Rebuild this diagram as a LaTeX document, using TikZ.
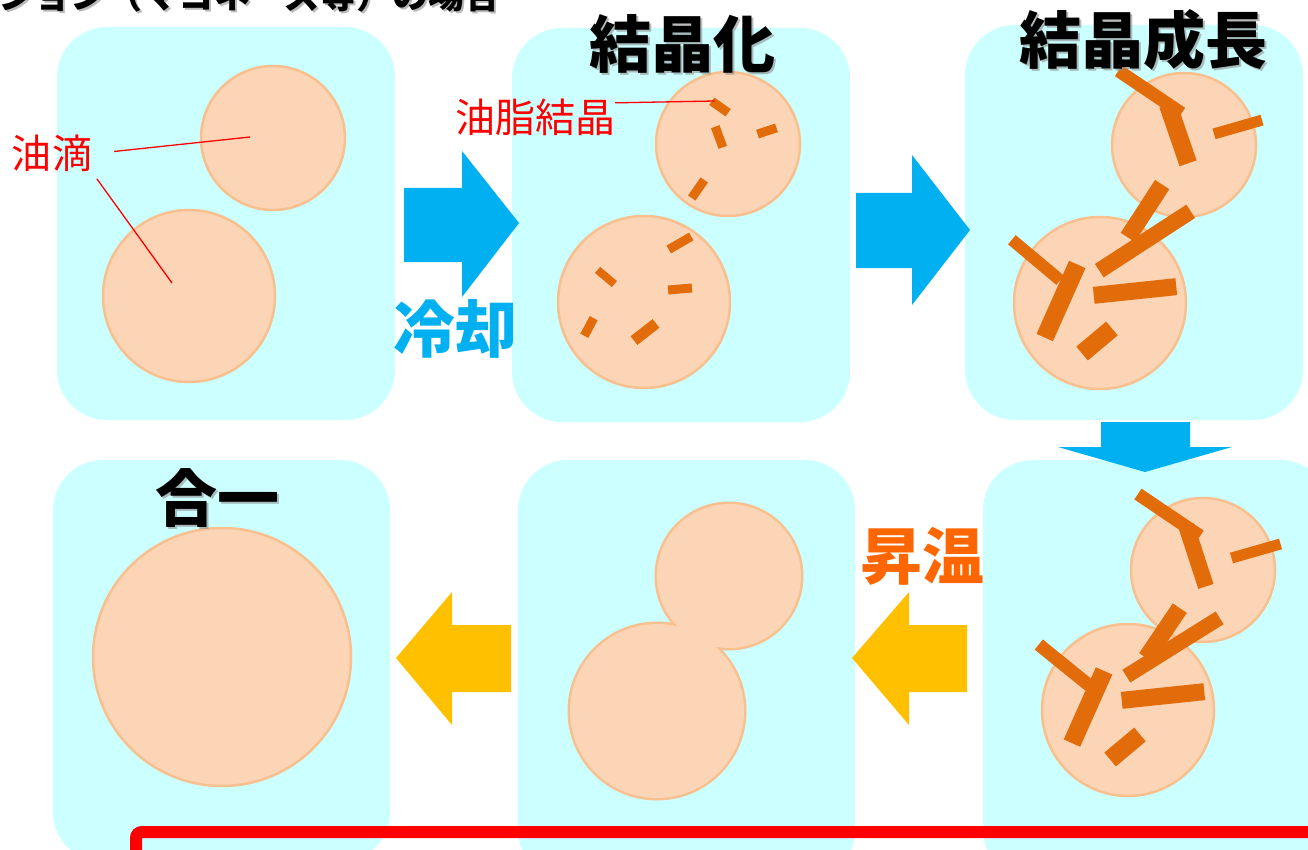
\documentclass[tikz,border=0pt]{standalone}
\usepackage{fontspec}
\newfontfamily\jp{Noto Sans CJK JP}

\definecolor{panelbg}{HTML}{CCFFFF}
\definecolor{dropfill}{HTML}{FBD5B5}
\definecolor{dropline}{HTML}{F9C08F}
\definecolor{crys}{HTML}{E36C0A}
\definecolor{coolblue}{HTML}{00B0F0}
\definecolor{warmamber}{HTML}{FFC000}
\definecolor{warmorange}{HTML}{FF6600}

\begin{document}
\begin{tikzpicture}[x=1pt,y=-1pt,
    panel/.style={fill=panelbg, rounded corners=50},
    drop/.style={fill=dropfill, draw=dropline, line width=2.5},
    crystal/.style={fill=crys},
    title/.style={font=\jp\bfseries\fontsize{62}{62}\selectfont, anchor=base, inner sep=0},
    shade/.style={text=black!45, opacity=.6},
    tag/.style={font=\jp\fontsize{40}{40}\selectfont, text=red, anchor=base, inner sep=0},
    leader/.style={red, line width=1.3}]

    \useasboundingbox (0,0) rectangle (1308,850);
    \clip (0,0) rectangle (1308,850);

    % heading, cut at the top edge
    \node[font=\jp\bfseries\fontsize{36}{36}\selectfont, anchor=base west, inner sep=0, shade] (headS) at (0,11) {ション（マヨネーズ等）の場合};
    \node[font=\jp\bfseries\fontsize{36}{36}\selectfont, anchor=base west, inner sep=0] (head) at (-2,9) {ション（マヨネーズ等）の場合};

    % six stages
    \fill[panel] (57,27) rectangle (395,420);
    \fill[panel] (512,28) rectangle (850,422);
    \fill[panel] (965,25) rectangle (1303,420);
    \fill[panel] (53,460) rectangle (390,862);
    \fill[panel] (518,460) rectangle (855,880);
    \fill[panel] (983,460) rectangle (1330,880);

    % droplets
    \foreach \dx/\dy in {0/0, 455/6, 911/7} {
        \filldraw[drop] (273+\dx,138+\dy) circle (72);
        \filldraw[drop] (189+\dx,296+\dy) circle (86);
    }
    \filldraw[drop] (1203,570) circle (72);
    \filldraw[drop] (1128,710) circle (86);
    \filldraw[drop] (222,657) circle (129);

    % two droplets running together
    \filldraw[drop, line width=5] (729,576) circle (72);
    \filldraw[drop, line width=5] (657,711) circle (87);
    \fill[dropfill] (729,576) circle (72);
    \fill[dropfill] (657,711) circle (87);

    % fat crystals: x/y/angle/length/width
    \foreach \cx/\cy/\ang/\len/\wid in {720/107/35/20/9, 719/137/70/22/9, 767/131/-18/20/9,
            698/189/-55/22/9, 680/243/-30/26/9, 606/277/40/22/8, 680/289/-5/24/9,
            589/327/-62/20/9, 645/332/-38/28/11}
        \fill[crystal, shift={(\cx,\cy)}, rotate=-\ang] (-\len/2,-\wid/2) rectangle (\len/2,\wid/2);

    \foreach \cx/\cy/\ang/\len/\wid in {1150/92/34/76/13, 1178/134/71/62/18, 1238/127/-16/50/11,
            1145/211/-57/63/17, 1145/241/-33/109/16, 1036/260/40/63/12, 1061/301/-66/80/18,
            1135/291/-6/83/17, 1097/341/-40/39/18}
        \fill[crystal, shift={(\cx,\cy)}, rotate=-\ang] (-\len/2,-\wid/2) rectangle (\len/2,\wid/2);

    \foreach \cx/\cy/\ang/\len/\wid in {1169/515/34/75/13, 1196/556/72/64/16, 1256/551/-16/51/11,
            1163/633/-56/60/17, 1173/647/-32/110/15, 1064/665/39/65/13, 1088/707/-66/79/18,
            1163/696/-6/83/17, 1125/747/-40/39/18}
        \fill[crystal, shift={(\cx,\cy)}, rotate=-\ang] (-\len/2,-\wid/2) rectangle (\len/2,\wid/2);

    % block arrows
    \fill[coolblue] (404,188) -- (462,188) -- (462,151) -- (519,223) -- (462,297) -- (462,262) -- (404,262) -- cycle;
    \fill[coolblue] (856,193) -- (912,193) -- (912,155) -- (970,230) -- (912,305) -- (912,268) -- (856,268) -- cycle;
    \fill[coolblue] (1101,422) -- (1190,422) -- (1190,447) -- (1232,447) -- (1145,472) -- (1058,447) -- (1101,447) -- cycle;
    \fill[warmamber] (967,625) -- (909,625) -- (909,592) -- (852,658) -- (909,725) -- (909,692) -- (967,692) -- cycle;
    \fill[warmamber] (511,625) -- (452,625) -- (452,592) -- (396,658) -- (452,725) -- (452,692) -- (511,692) -- cycle;

    % stage names, with a soft shadow behind the black ones
    \node[title, shade] (crystS) at (684,70) {結晶化};
    \node[title] (cryst) at (682,68) {結晶化};
    \node[title, shade] (growS) at (1145,66) {結晶成長};
    \node[title] (grow) at (1143,64) {結晶成長};
    \node[title, shade] (mergeS) at (219,523) {合一};
    \node[title] (merge) at (217,521) {合一};
    \node[title, text=coolblue] (cool) at (455,352) {冷却};
    \node[title, text=warmorange] (heat) at (922,579) {昇温};

    % red labels
    \node[tag] (oil) at (52,169) {油滴};
    \node[tag] (fat) at (535,133) {油脂結晶};
    \coordinate (oilA) at (250,137);
    \coordinate (oilB) at (172,283);
    \coordinate (fatA) at (715,101);
    \draw[leader, shorten <=22] (oil.east) -- (oilA);
    \draw[leader, shorten <=8] (oil.south east) -- (oilB);
    \draw[leader] ([yshift=15]fat.east) -- (fatA);

    % frame below
    \draw[red, line width=12, rounded corners=6] (136,832) rectangle (1330,900);
\end{tikzpicture}
\end{document}
